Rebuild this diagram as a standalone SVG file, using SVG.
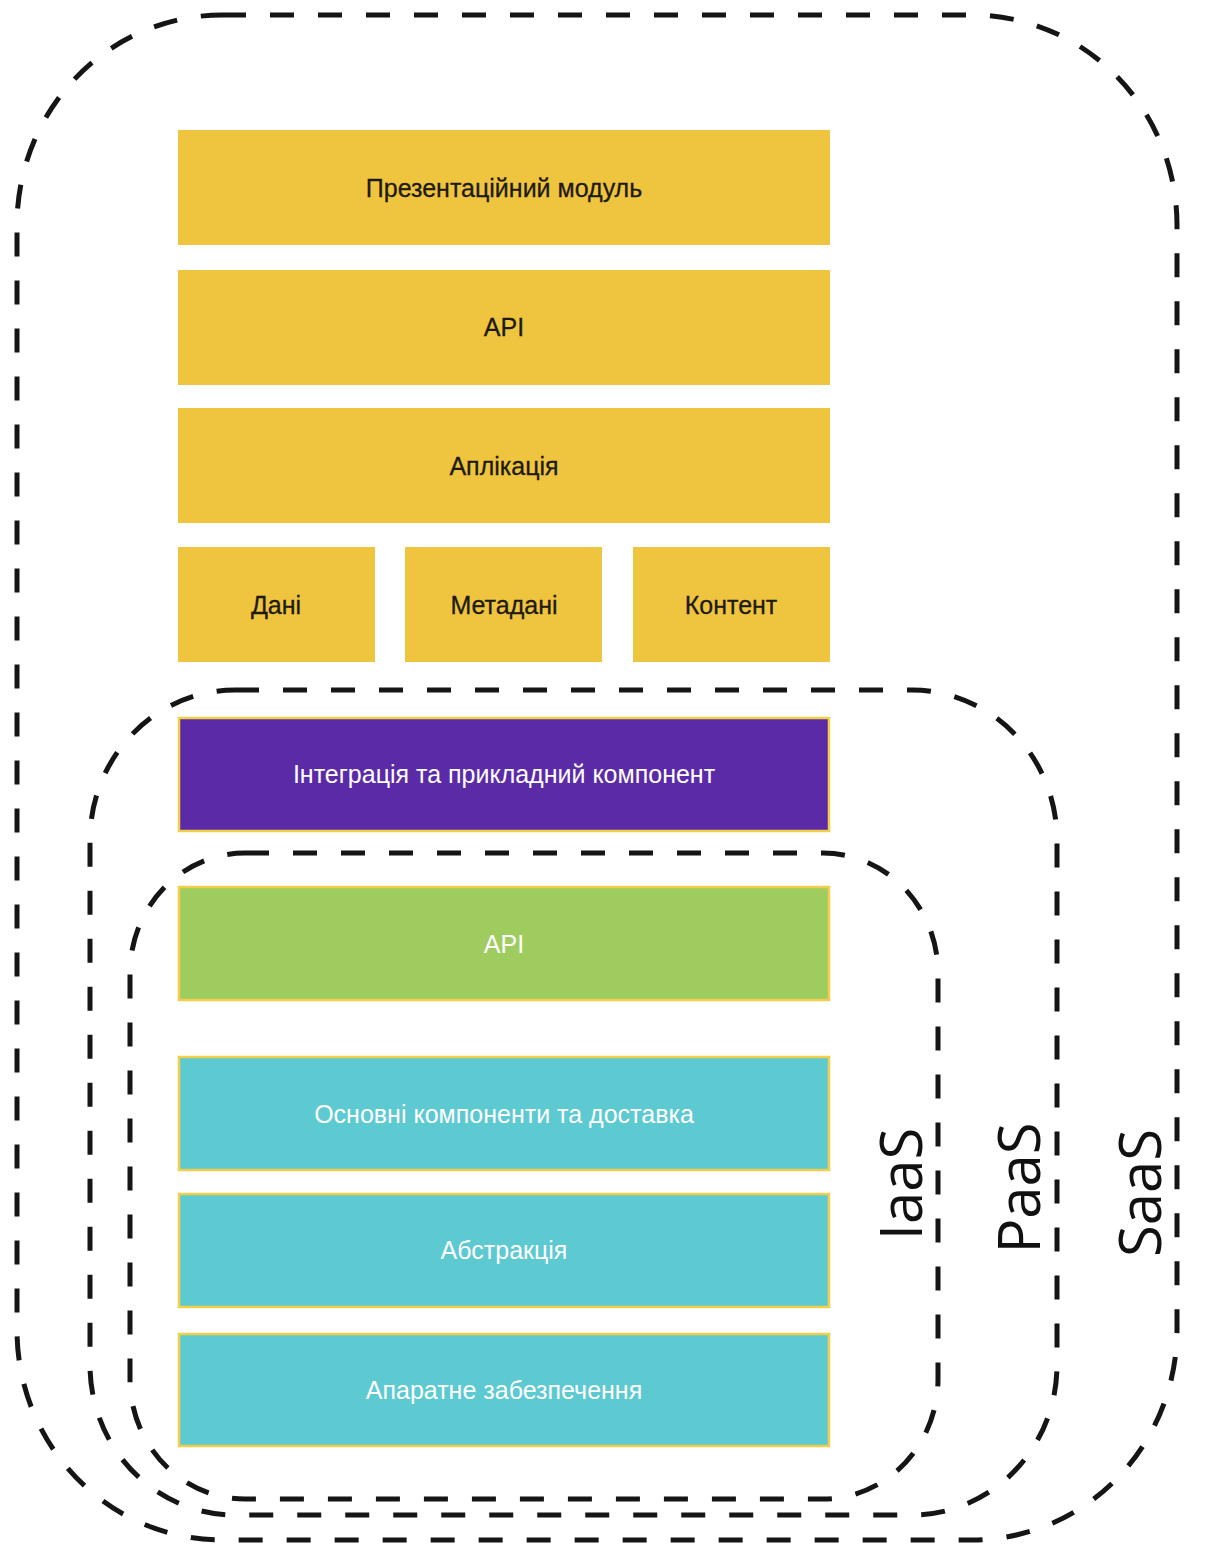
<svg xmlns="http://www.w3.org/2000/svg" width="1219" height="1546" viewBox="0 0 1219 1546">
  <style>
    .bound { fill: none; stroke: #151515; stroke-width: 5; stroke-dasharray: 24 24; }
    .yel { fill: #EFC540; }
    .pur { fill: #5B2BA7; stroke: #F2CF4A; stroke-width: 2.5; }
    .grn { fill: #9ECC5F; stroke: #F2CF4A; stroke-width: 2.5; }
    .teal { fill: #5DC9D1; stroke: #F2CF4A; stroke-width: 2.5; }
    .lbl { font-family: "Liberation Sans", Arial, sans-serif; font-size: 25px; text-anchor: middle; }
    .dark { fill: #1E1A10; stroke: #1E1A10; stroke-width: 0.3; }
    .light { fill: #FFFFFF; }
    .tier { font-family: "Open Sans", "DejaVu Sans", sans-serif; font-size: 58px; fill: #111111; text-anchor: middle; }
  </style>
  <rect width="1219" height="1546" fill="#FFFFFF"/>

  <!-- service model boundaries -->
  <g id="connectors">
    <rect class="bound" x="17" y="15" width="1160" height="1525" rx="205" ry="210"/>
    <rect class="bound" x="90" y="690" width="967" height="825" rx="145" ry="150"/>
    <rect class="bound" x="130" y="853" width="808" height="646" rx="115" ry="120"/>
  </g>

  <g id="presentation">
    <rect class="yel" x="178" y="130" width="652" height="115"/>
    <text class="lbl dark" x="504" y="197">Презентаційний модуль</text>
  </g>
  <g id="api-top">
    <rect class="yel" x="178" y="270" width="652" height="115"/>
    <text class="lbl dark" x="504" y="336">API</text>
  </g>
  <g id="application">
    <rect class="yel" x="178" y="408" width="652" height="115"/>
    <text class="lbl dark" x="504" y="475">Аплікація</text>
  </g>
  <g id="data">
    <rect class="yel" x="178" y="547" width="197" height="115"/>
    <text class="lbl dark" x="276" y="614">Дані</text>
  </g>
  <g id="metadata">
    <rect class="yel" x="405" y="547" width="197" height="115"/>
    <text class="lbl dark" x="504" y="614">Метадані</text>
  </g>
  <g id="content">
    <rect class="yel" x="633" y="547" width="197" height="115"/>
    <text class="lbl dark" x="731" y="614">Контент</text>
  </g>
  <g id="integration">
    <rect class="pur" x="179" y="718" width="650" height="113"/>
    <text class="lbl light" x="504" y="783">Інтеграція та прикладний компонент</text>
  </g>
  <g id="api-platform">
    <rect class="grn" x="179" y="887" width="650" height="113"/>
    <text class="lbl light" x="504" y="953">API</text>
  </g>
  <g id="core">
    <rect class="teal" x="179" y="1057" width="650" height="113"/>
    <text class="lbl light" x="504" y="1123">Основні компоненти та доставка</text>
  </g>
  <g id="abstraction">
    <rect class="teal" x="179" y="1194" width="650" height="113"/>
    <text class="lbl light" x="504" y="1259">Абстракція</text>
  </g>
  <g id="hardware">
    <rect class="teal" x="179" y="1334" width="650" height="112"/>
    <text class="lbl light" x="504" y="1399">Апаратне забезпечення</text>
  </g>

  <g id="tier-labels">
    <text class="tier" transform="translate(922,1184) rotate(-90)">IaaS</text>
    <text class="tier" transform="translate(1040,1188) rotate(-90)">PaaS</text>
    <text class="tier" transform="translate(1161,1193) rotate(-90)">SaaS</text>
  </g>
</svg>
